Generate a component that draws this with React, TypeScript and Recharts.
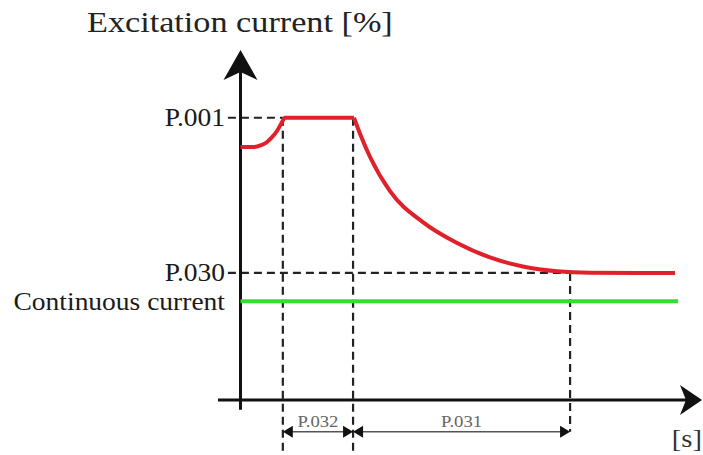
import { ComposedChart, Line, XAxis, YAxis, ReferenceLine } from "recharts"

// excitation current: rise + plateau, then decay (time in arbitrary units, current in % of P.001)
const riseTime = [0, 2.9, 4.6, 5.9, 7.0, 8.1, 9.0, 9.9, 25.2]
const riseLevel = [89.6, 89.6, 90.3, 91.4, 93.1, 95.3, 97.8, 100, 100]
const decayTime = [25.2, 26.5, 28.8, 33.2, 40.5, 48.1, 55.4, 62.7, 70.3, 77.6, 96.5]
const decayLevel = [100, 94.5, 86, 74, 63, 55.6, 50.5, 47.3, 45.6, 45.1, 45]

const contTime = [0, 97.2]
const contLevel = [35, 35]

const levelTicks = [100, 45, 35]
const levelNames = ["P.001", "P.030", "Continuous current"]

const p001 = 100
const p030 = 45
const t032Start = 9.4
const t032End = 25
const t031End = 73.2
const dimLevel = -11.3

const serif = '"Liberation Serif", "Times New Roman", serif'

const riseData = riseTime.map((t, i) => ({ t, i: riseLevel[i] }))
const decayData = decayTime.map((t, i) => ({ t, i: decayLevel[i] }))
const contData = contTime.map((t, i) => ({ t, c: contLevel[i] }))

function LevelTick(props: any) {
  const { x, y, payload } = props
  const idx = levelTicks.indexOf(payload.value)
  return (
    <text
      transform={`translate(${x + 7},${y + 8.5}) scale(1.1,1)`}
      textAnchor="end"
      fontSize={25}
      fontFamily={serif}
      fill="#1a1a1a"
    >
      {levelNames[idx]}
    </text>
  )
}

function DashSeg(props: any) {
  const { x1, y1, x2, y2 } = props
  return <line x1={x1} y1={y1} x2={x2} y2={y2} stroke="#222" strokeWidth={2.2} strokeDasharray="8 5" />
}

function UpAxis(props: any) {
  const { x1, y1, y2 } = props
  const tx = x1
  const ty = Math.min(y1, y2)
  const by = Math.max(y1, y2)
  return (
    <g>
      <line x1={tx} y1={by} x2={tx} y2={ty + 20} stroke="#111" strokeWidth={3} />
      <polygon points={`${tx},${ty} ${tx + 17},${ty + 30} ${tx},${ty + 22} ${tx - 17},${ty + 30}`} fill="#111" />
    </g>
  )
}

function RightAxis(props: any) {
  const { x1, y1, x2 } = props
  const tx = Math.max(x1, x2)
  const lx = Math.min(x1, x2)
  const ty = y1
  return (
    <g>
      <line x1={lx} y1={ty} x2={tx - 14} y2={ty} stroke="#111" strokeWidth={3} />
      <polygon points={`${tx},${ty} ${tx - 22},${ty - 15} ${tx - 16},${ty} ${tx - 22},${ty + 15}`} fill="#111" />
      <text
        transform={`translate(${tx},${ty + 47}) scale(1.1,1)`}
        textAnchor="end"
        fontSize={26}
        fontFamily={serif}
        fill="#333"
      >
        [s]
      </text>
    </g>
  )
}

function makeDim(name: string) {
  return function Dim(props: any) {
    const { x1, y1, x2 } = props
    const a = Math.min(x1, x2)
    const b = Math.max(x1, x2)
    const y = y1
    return (
      <g>
        <line x1={a + 4} y1={y} x2={b - 4} y2={y} stroke="#555" strokeWidth={1.5} />
        <polygon points={`${a},${y} ${a + 10},${y - 6} ${a + 10},${y + 6}`} fill="#111" />
        <polygon points={`${b},${y} ${b - 10},${y - 6} ${b - 10},${y + 6}`} fill="#111" />
        <text
          transform={`translate(${(a + b) / 2},${y - 5}) scale(1.1,1)`}
          textAnchor="middle"
          fontSize={17}
          fontFamily={serif}
          fill="#666"
        >
          {name}
        </text>
      </g>
    )
  }
}

const Dim032 = makeDim("P.032")
const Dim031 = makeDim("P.031")

export default function App() {
  return (
    <div style={{ position: "absolute", left: 0, top: 0, width: 703, height: 455, background: "#fff" }}>
      <div
        style={{
          position: "absolute",
          left: 87,
          top: 7,
          fontFamily: serif,
          fontSize: 30,
          lineHeight: 1,
          color: "#222",
          whiteSpace: "nowrap",
          transform: "scaleX(1.14)",
          transformOrigin: "left top",
        }}
      >
        Excitation current [%]
      </div>
      <ComposedChart width={703} height={455} margin={{ top: 50, right: 1, bottom: 0, left: 0 }}>
        <XAxis type="number" dataKey="t" domain={[-5, 102.5]} allowDataOverflow hide />
        <YAxis
          type="number"
          domain={[-19.5, 124]}
          allowDataOverflow
          width={218}
          ticks={levelTicks}
          interval={0}
          axisLine={false}
          tickLine={false}
          tickSize={0}
          tickMargin={0}
          tick={(p: any) => <LevelTick {...p} />}
        />

        <ReferenceLine segment={[{ x: -2.8, y: p001 }, { x: t032Start, y: p001 }]} ifOverflow="visible" shape={(p: any) => <DashSeg {...p} />} />
        <ReferenceLine segment={[{ x: -2.8, y: p030 }, { x: t031End, y: p030 }]} ifOverflow="visible" shape={(p: any) => <DashSeg {...p} />} />
        <ReferenceLine segment={[{ x: t032Start, y: p001 }, { x: t032Start, y: -19.5 }]} ifOverflow="visible" shape={(p: any) => <DashSeg {...p} />} />
        <ReferenceLine segment={[{ x: t032End, y: p001 }, { x: t032End, y: -19.5 }]} ifOverflow="visible" shape={(p: any) => <DashSeg {...p} />} />
        <ReferenceLine segment={[{ x: t031End, y: p030 }, { x: t031End, y: dimLevel }]} ifOverflow="visible" shape={(p: any) => <DashSeg {...p} />} />

        <ReferenceLine segment={[{ x: 0, y: -3.5 }, { x: 0, y: 124 }]} ifOverflow="visible" shape={(p: any) => <UpAxis {...p} />} />
        <ReferenceLine segment={[{ x: -5, y: 0 }, { x: 102.5, y: 0 }]} ifOverflow="visible" shape={(p: any) => <RightAxis {...p} />} />

        <ReferenceLine segment={[{ x: t032Start, y: dimLevel }, { x: t032End, y: dimLevel }]} ifOverflow="visible" shape={(p: any) => <Dim032 {...p} />} />
        <ReferenceLine segment={[{ x: t032End, y: dimLevel }, { x: t031End, y: dimLevel }]} ifOverflow="visible" shape={(p: any) => <Dim031 {...p} />} />

        <Line data={contData} dataKey="c" type="linear" stroke="#33dd33" strokeWidth={4} dot={false} activeDot={false} isAnimationActive={false} />
        <Line data={riseData} dataKey="i" type="monotone" stroke="#e0202a" strokeWidth={4} dot={false} activeDot={false} isAnimationActive={false} />
        <Line data={decayData} dataKey="i" type="monotone" stroke="#e0202a" strokeWidth={4} dot={false} activeDot={false} isAnimationActive={false} />
      </ComposedChart>
    </div>
  )
}
